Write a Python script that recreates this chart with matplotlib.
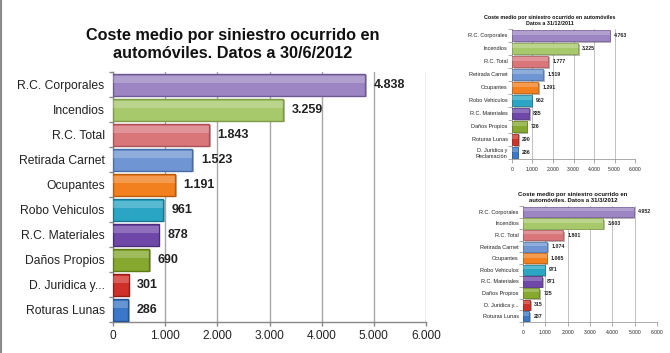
import numpy as np
import matplotlib
import matplotlib.pyplot as plt
import matplotlib.patheffects as pe
from matplotlib.lines import Line2D

matplotlib.use("Agg")

plt.rcParams["font.family"] = ["Liberation Sans", "DejaVu Sans"]

# main chart: 30/6/2012
cats_jun = ["R.C. Corporales", "Incendios", "R.C. Total", "Retirada Carnet",
            "Ocupantes", "Robo Vehiculos", "R.C. Materiales", "Daños Propios",
            "D. Juridica y...", "Roturas Lunas"]
vals_jun = [4838, 3259, 1843, 1523, 1191, 961, 878, 690, 301, 286]

# small chart: 31/12/2011
cats_dec = ["R.C. Corporales", "Incendios", "R.C. Total", "Retirada Carnet",
            "Ocupantes", "Robo Vehiculos", "R.C. Materiales", "Daños Propios",
            "Roturas Lunas", "D. Juridica y\nReclamación"]
vals_dec = [4763, 3225, 1777, 1519, 1291, 962, 835, 726, 290, 286]

# small chart: 31/3/2012
cats_mar = ["R.C. Corporales", "Incendios", "R.C. Total", "Retirada Carnet",
            "Ocupantes", "Robo Vehiculos", "R.C. Materiales", "Daños Propios",
            "D. Juridica y...", "Roturas Lunas"]
vals_mar = [4952, 3603, 1801, 1074, 1065, 971, 871, 725, 315, 287]

x_ticks = [0, 1000, 2000, 3000, 4000, 5000, 6000]

colors = ["#9C85C2", "#A8C86C", "#D8767A", "#6F96D2", "#F2801E",
          "#2AA6C4", "#6F47A8", "#86A82E", "#D0302A", "#3B78C9"]
edges = ["#6E5A92", "#7E9A48", "#A85054", "#4A6CA4", "#B85A0C",
         "#17788F", "#4B2C7A", "#5E7A16", "#921C16", "#24548F"]


def fmt(v):
    return f"{v:,}".replace(",", ".")


def draw_chart(ax, cats, vals, title, lab_fs, val_fs, tick_fs, title_fs,
               pad, lw, title_pad, title_x, lab_pad):
    y = np.arange(len(cats))
    ax.barh(y, vals, height=0.88, color=colors, edgecolor=edges,
            linewidth=lw, zorder=3,
            path_effects=[pe.SimplePatchShadow(offset=(1.2, -1.2),
                                               alpha=0.35), pe.Normal()])
    # light band on the upper part of each bar for the glossy look
    ax.barh(y - 0.2, vals, height=0.3, color="white", alpha=0.22,
            linewidth=0, zorder=4)
    for yi, v in zip(y, vals):
        ax.annotate(fmt(v), (v, yi), xytext=(pad, 0),
                    textcoords="offset points", va="center", ha="left",
                    fontsize=val_fs, fontweight="bold", color="#222222",
                    zorder=5)
    ax.set_xlim(0, 6000)
    ax.set_ylim(len(cats) - 0.5, -0.5)
    ax.set_xticks(x_ticks)
    ax.set_xticklabels([fmt(t) for t in x_ticks], fontsize=tick_fs,
                       color="#222222")
    ax.set_yticks(y)
    ax.set_yticklabels(cats, fontsize=lab_fs, color="#222222")
    ax.tick_params(axis="y", length=0, pad=lab_pad)
    ax.set_yticks(np.arange(len(cats) + 1) - 0.5, minor=True)
    ax.tick_params(axis="y", which="minor", length=3, color="#888888",
                   width=lw)
    ax.tick_params(axis="x", length=3, color="#888888", width=lw, pad=3)
    ax.grid(axis="x", color="#A8A8A8", linewidth=lw, zorder=0)
    for s in ["top", "right"]:
        ax.spines[s].set_visible(False)
    for s in ["left", "bottom"]:
        ax.spines[s].set_color("#888888")
        ax.spines[s].set_linewidth(lw)
    ax.set_title(title, fontsize=title_fs, fontweight="bold",
                 color="#111111", pad=title_pad, linespacing=1.3, x=title_x)


fig = plt.figure(figsize=(6.7, 3.53), dpi=100)

ax_main = fig.add_axes([0.1687, 0.0878, 0.4671, 0.7082])
draw_chart(ax_main, cats_jun, vals_jun,
           "Coste medio por siniestro ocurrido en\nautomóviles. Datos a 30/6/2012",
           lab_fs=8.7, val_fs=9, tick_fs=8.6, title_fs=11.7,
           pad=6, lw=1.0, title_pad=10, title_x=0.383, lab_pad=6)

ax_dec = fig.add_axes([0.764, 0.5496, 0.184, 0.3684])
draw_chart(ax_dec, cats_dec, vals_dec,
           "Coste medio por siniestro ocurrido en automóviles\nDatos a 31/12/2011",
           lab_fs=4.0, val_fs=3.8, tick_fs=3.6, title_fs=3.9,
           pad=3, lw=0.5, title_pad=3, title_x=0.31, lab_pad=3)

ax_mar = fig.add_axes([0.7806, 0.0878, 0.2, 0.3286])
draw_chart(ax_mar, cats_mar, vals_mar,
           "Coste medio por siniestro ocurrido en\nautomóviles. Datos a 31/3/2012",
           lab_fs=4.0, val_fs=3.8, tick_fs=3.6, title_fs=4.35,
           pad=3, lw=0.5, title_pad=3, title_x=0.373, lab_pad=3)

# grey frame line on the left edge of the screenshot
fig.add_artist(Line2D([0.002, 0.002], [0, 1], color="#8A8A8A", linewidth=1.5))

fig.savefig("out.png", dpi=100)
